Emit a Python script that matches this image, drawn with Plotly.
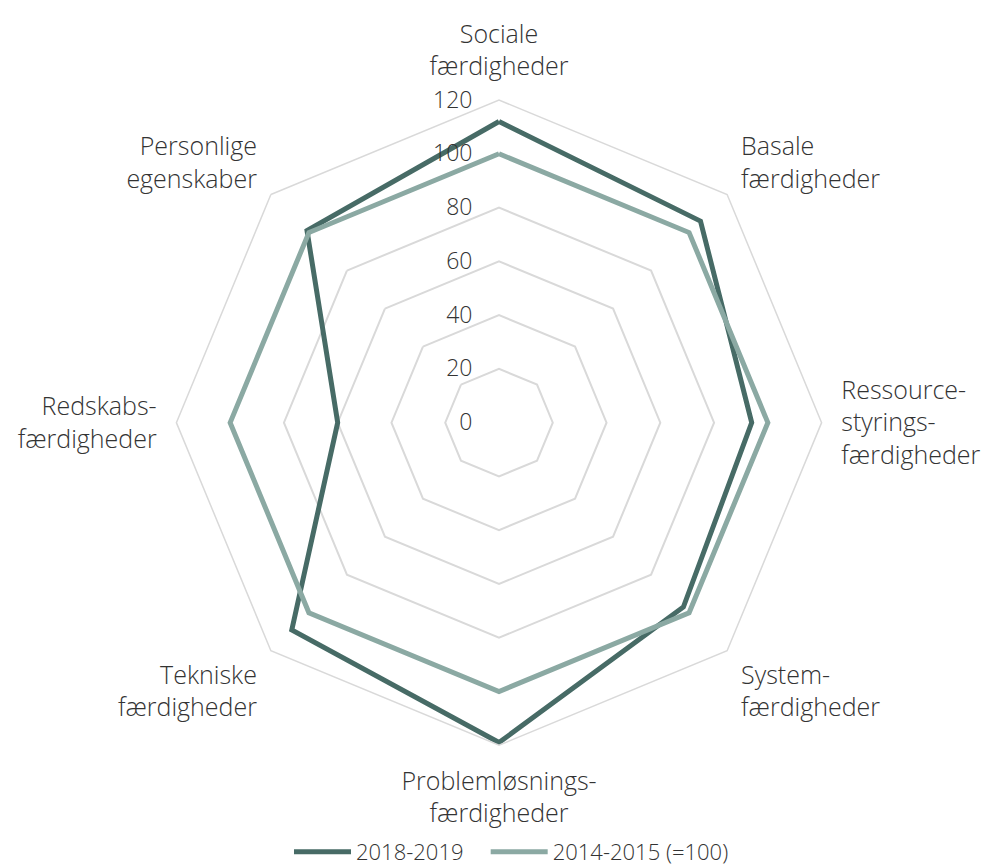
import plotly.graph_objects as go

categories = [
    "Sociale<br>færdigheder",
    "Basale<br>færdigheder",
    "Ressource-<br>styrings-<br>færdigheder",
    "System-<br>færdigheder",
    "Problemløsnings-<br>færdigheder",
    "Tekniske<br>færdigheder",
    "Redskabs-<br>færdigheder",
    "Personlige<br>egenskaber",
]
series_2018 = [112, 106, 94, 97, 119, 109, 60, 101]
series_2014 = [100, 100, 100, 100, 100, 100, 100, 100]
tick_vals = [0, 20, 40, 60, 80, 100, 120]

DARK = "#476b66"
LIGHT = "#8ba9a3"
GRID = "#d9d9d9"
TEXT = "#333333"
FONT = "Open Sans"
NBSP = "\u00a0"

fig = go.Figure()
fig.add_trace(go.Scatterpolar(
    r=series_2018 + series_2018[:1], theta=categories + categories[:1],
    mode="lines", name="2018-2019" + NBSP * 3,
    line=dict(color=DARK, width=5),
))
fig.add_trace(go.Scatterpolar(
    r=series_2014 + series_2014[:1], theta=categories + categories[:1],
    mode="lines", name="2014-2015 (=100)",
    line=dict(color=LIGHT, width=5),
))

fig.update_layout(
    width=1007, height=865,
    margin=dict(l=0, r=0, t=0, b=0),
    paper_bgcolor="white",
    font=dict(family=FONT, size=25, color=TEXT, weight=300),
    polar=dict(
        domain=dict(x=[165/1007, 817/1007], y=[120/865, 772/865]),
        gridshape="linear",
        bgcolor="white",
        radialaxis=dict(
            range=[0, 120], tickvals=tick_vals, angle=90, tickangle=90,
            showline=False, gridcolor=GRID, gridwidth=1.5,
            side="counterclockwise",
            ticks="outside", ticklen=18, tickcolor="rgba(0,0,0,0)",
            tickfont=dict(size=23, color=TEXT, weight=300),
        ),
        angularaxis=dict(
            direction="clockwise", rotation=90,
            showgrid=False, showline=True, linecolor=GRID, linewidth=1.5,
            ticks="outside", ticklen=14, tickcolor="rgba(0,0,0,0)",
            tickfont=dict(size=25, color=TEXT, weight=300),
        ),
    ),
    legend=dict(
        orientation="h", x=0.5, xanchor="center", y=0.014, yanchor="middle",
        font=dict(size=22, color=TEXT, weight=300),
        itemwidth=57,
    ),
)

fig.write_html("out.html")
